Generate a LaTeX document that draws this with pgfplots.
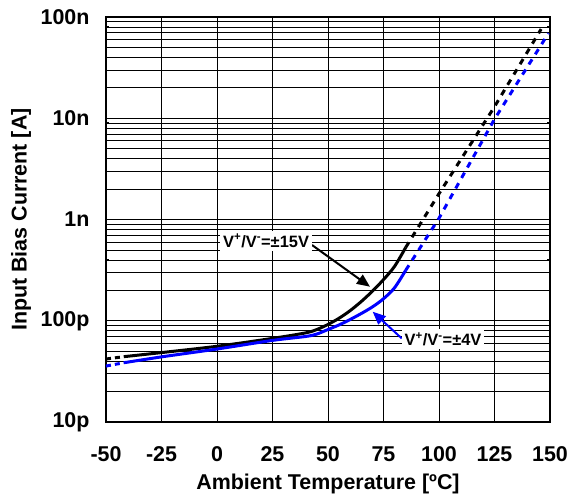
\documentclass[border=0pt]{standalone}
\usepackage{fontspec}
\setmainfont{Liberation Sans}
\usepackage{pgfplots}
\pgfplotsset{compat=1.18}
\usetikzlibrary{arrows.meta}
\definecolor{myblue}{RGB}{0,0,255}
\begin{document}
\begin{tikzpicture}
\begin{axis}[
  scale only axis, width=444bp, height=405bp,
  xmin=-50, xmax=150, ymode=log, ymin=1e-11, ymax=1e-7,
  xtick={-50,-25,0,25,50,75,100,125,150},
  ytick={1e-11,1e-10,1e-9,1e-8,1e-7},
  yticklabels={10p,100p,1n,10n,100n},
  grid=both,
  major grid style={black, line width=0.8bp},
  minor grid style={black, line width=0.6bp},
  axis line style={line width=1.6bp},
  tick style={black, line width=0.8bp},
  major tick length=4bp, minor tick length=3bp,
  tick label style={font=\fontsize{21.5}{25}\selectfont\bfseries},
  /pgf/number format/assume math mode=true,
  xticklabel style={yshift=-21bp},
  yticklabel style={xshift=-13bp},
  every axis x label/.style={at={(rel axis cs:0.5,0)}, anchor=north, yshift=-48bp},
  every axis y label/.style={at={(rel axis cs:0,0.5)}, rotate=90, anchor=center, yshift=85bp},
  label style={font=\fontsize{21.5}{25}\selectfont\bfseries},
  xlabel={Ambient Temperature [ºC]},
  ylabel={Input Bias Current [A]},
]
% +-15V, black
\addplot[black, line width=3bp, dash pattern=on 5bp off 4bp] coordinates {(-50,41.9e-12) (-42,44.2e-12)};
\addplot[black, line width=3bp, smooth, tension=0.5] coordinates {
(-42,44.2e-12) (-25,48.5e-12) (0,56e-12) (25,67e-12) (40,76e-12) (45,82e-12) (50,92e-12) (55,106e-12) (60,126e-12) (65,155e-12) (70,196e-12) (75,255e-12) (80,345e-12) (85,530e-12)};
\addplot[black, line width=3bp, dash pattern=on 6bp off 6bp] coordinates {(85,530e-12) (100,1.8e-9) (125,1.3e-8) (146,7.6e-8)};
% +-4V, blue
\addplot[myblue, line width=3bp, dash pattern=on 5bp off 4bp] coordinates {(-50,35.7e-12) (-42,38.5e-12)};
\addplot[myblue, line width=3bp, smooth, tension=0.5] coordinates {
(-42,38.5e-12) (-25,44e-12) (0,52.6e-12) (25,64e-12) (40,70e-12) (45,74e-12) (50,82e-12) (55,91e-12) (60,103e-12) (65,118e-12) (70,137e-12) (75,165e-12) (80,212e-12) (85,315e-12)};
\addplot[myblue, line width=3bp, dash pattern=on 6bp off 6bp] coordinates {(85,315e-12) (100,1.03e-9) (125,9.8e-9) (149.3,6.9e-8)};
% annotations
\draw[black, line width=2bp, -{Triangle[length=13bp,width=11bp]}] (axis cs:42.8,5.6e-10) -- (axis cs:68.9,2.17e-10);
\node[fill=white, inner sep=3bp, font=\fontsize{16.5}{19}\selectfont\bfseries] at (axis cs:22.1,6.15e-10) {V\textsuperscript{+}/V\textsuperscript{-}=±15V};
\draw[myblue, line width=2bp, -{Triangle[length=13bp,width=11bp]}] (axis cs:83.2,6.7e-11) -- (axis cs:70.1,1.23e-10);
\node[fill=white, inner sep=3bp, font=\fontsize{16.5}{19}\selectfont\bfseries] at (axis cs:101.8,6.6e-11) {V\textsuperscript{+}/V\textsuperscript{-}=±4V};
\coordinate (sw) at (rel axis cs:0,0);
\coordinate (ne) at (rel axis cs:1,1);
\end{axis}
\pgfresetboundingbox
\path[use as bounding box] ([shift={(-106bp,-73bp)}]sw) rectangle ([shift={(19bp,17bp)}]ne);
\end{tikzpicture}
\end{document}
